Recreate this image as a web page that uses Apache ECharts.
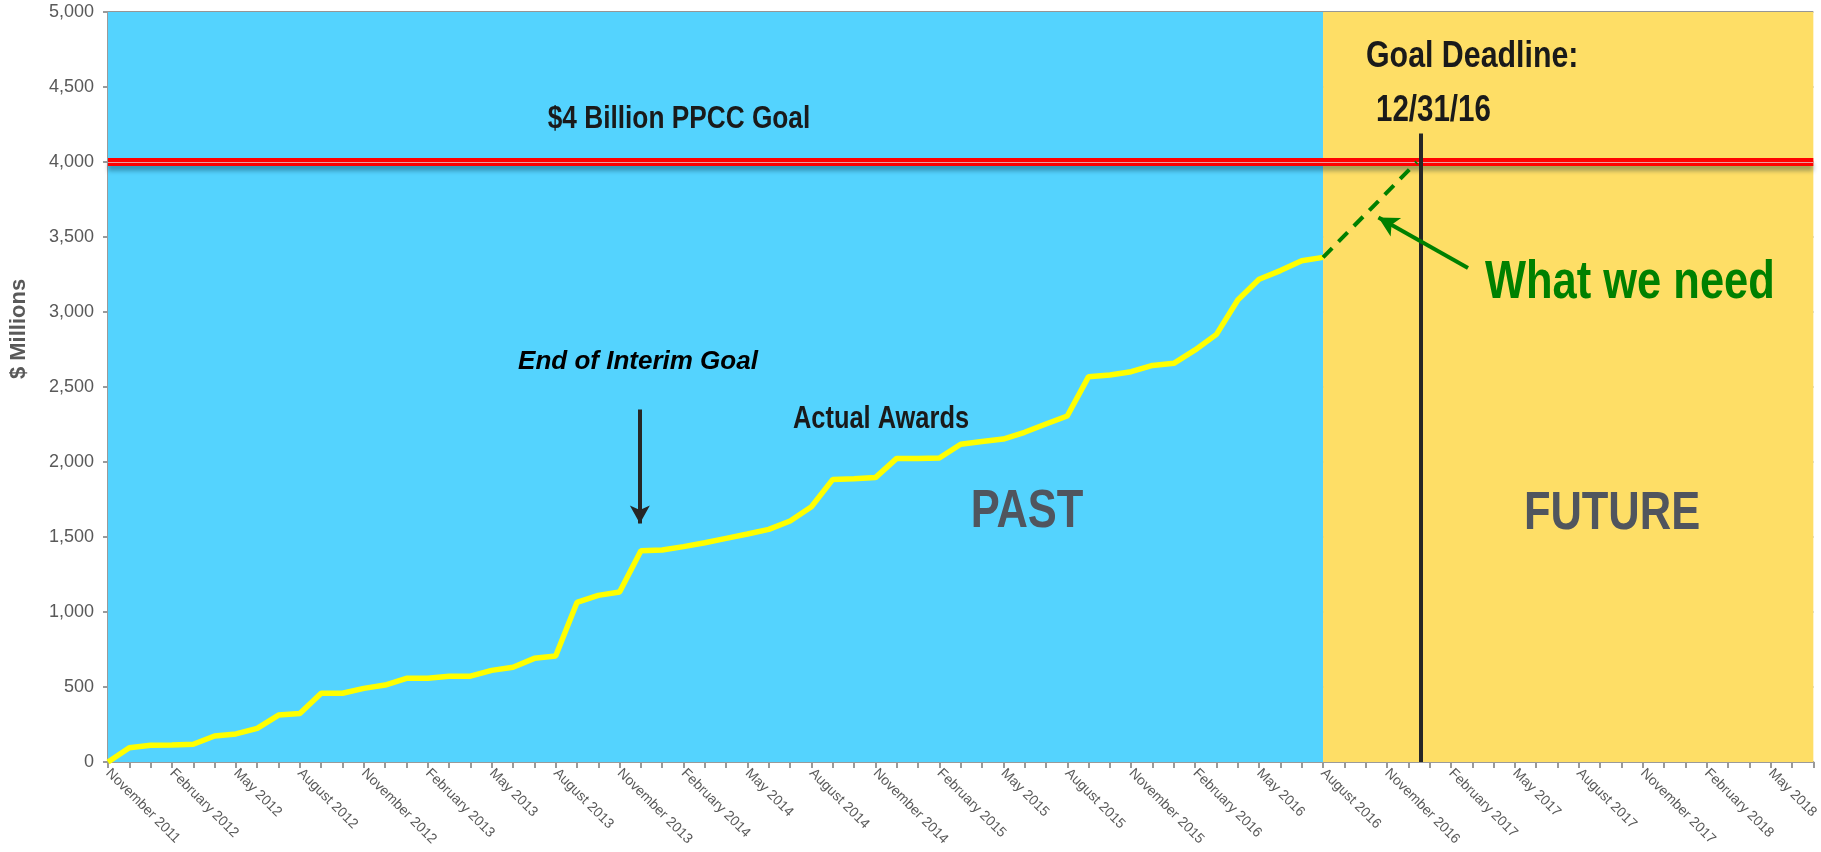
<!DOCTYPE html>
<html>
<head>
<meta charset="utf-8">
<script src="https://cdn.jsdelivr.net/npm/echarts@6/dist/echarts.min.js"></script>
<style>html,body{margin:0;padding:0;background:#fff;}#c{width:1821px;height:852px;}</style>
</head>
<body>
<div id="c"></div>
<script>
const months = [
  'November 2011','December 2011',
  'January 2012','February 2012','March 2012','April 2012','May 2012','June 2012','July 2012','August 2012','September 2012','October 2012','November 2012','December 2012',
  'January 2013','February 2013','March 2013','April 2013','May 2013','June 2013','July 2013','August 2013','September 2013','October 2013','November 2013','December 2013',
  'January 2014','February 2014','March 2014','April 2014','May 2014','June 2014','July 2014','August 2014','September 2014','October 2014','November 2014','December 2014',
  'January 2015','February 2015','March 2015','April 2015','May 2015','June 2015','July 2015','August 2015','September 2015','October 2015','November 2015','December 2015',
  'January 2016','February 2016','March 2016','April 2016','May 2016','June 2016','July 2016','August 2016','September 2016','October 2016','November 2016','December 2016',
  'January 2017','February 2017','March 2017','April 2017','May 2017','June 2017','July 2017','August 2017','September 2017','October 2017','November 2017','December 2017',
  'January 2018','February 2018','March 2018','April 2018','May 2018','June 2018','July 2018'
];
// Cumulative actual awards, $ millions (Nov 2011 - Aug 2016)
const actualAwards = [
  0, 95, 111, 113, 118, 173, 187, 224, 313, 324,
  458, 458, 491, 513, 558, 558, 571, 572, 611, 632,
  691, 707, 1064, 1111, 1133, 1409, 1413, 1436, 1462, 1491,
  1520, 1551, 1607, 1702, 1884, 1889, 1896, 2024, 2024, 2027,
  2118, 2136, 2153, 2198, 2253, 2307, 2569, 2580, 2602, 2644,
  2658, 2747, 2851, 3080, 3218, 3276, 3342, 3364
];
const yTicks = [0, 500, 1000, 1500, 2000, 2500, 3000, 3500, 4000, 4500, 5000];
const goalValue = 4000;
const pastEndMonth = 'August 2016';
const interimGoalMonth = 'December 2013';
const deadlineMonthPos = 61.6; // 12/31/16 on the month scale

const pastEndIdx = months.indexOf(pastEndMonth);
const interimIdx = months.indexOf(interimGoalMonth);
const lastIdx = months.length - 1;
const REG = '"Liberation Sans",Arial,sans-serif';

// narrow bold text (Arial Narrow look) via horizontal scaling of Liberation Sans Bold
function narrowText(text, x, y, size, fill, align, extra) {
  return {
    type: 'text', z: 100, x: x, y: y, scaleX: 0.82, silent: true,
    style: Object.assign({text: text, x: 0, y: 0, align: align || 'center', verticalAlign: 'middle',
      font: 'bold ' + size + 'px ' + REG, fill: fill}, extra || {})
  };
}

const chart = echarts.init(document.getElementById('c'), null, {renderer: 'canvas'});
chart.setOption({
  animation: false,
  backgroundColor: '#ffffff',
  grid: {left: 98, right: 0, top: 12, bottom: 90, containLabel: false},
  xAxis: [{
    type: 'category',
    data: months,
    boundaryGap: false,
    axisLine: {show: true, lineStyle: {color: '#9a9a9a', width: 2}},
    axisTick: {show: true, interval: 0, length: 6, lineStyle: {color: '#9a9a9a', width: 2}},
    axisLabel: {interval: 2, rotate: -45, fontSize: 14, color: '#595959', fontFamily: REG, margin: 9},
    splitLine: {show: false}
  }, {
    type: 'value', min: 0, max: lastIdx, show: false
  }],
  yAxis: {
    type: 'value', min: yTicks[0], max: yTicks[yTicks.length - 1], interval: yTicks[1] - yTicks[0],
    name: '$ Millions', nameLocation: 'middle', nameGap: 78, nameRotate: 90,
    nameTextStyle: {fontSize: 22, fontWeight: 'bold', color: '#595959', fontFamily: REG, padding: [0, 0, 0, 116]},
    axisLine: {show: true, lineStyle: {color: '#9a9a9a', width: 2}},
    axisTick: {show: true, length: 5, lineStyle: {color: '#9a9a9a', width: 2}},
    axisLabel: {fontSize: 18, color: '#595959', fontFamily: REG, margin: 14,
      formatter: v => v.toLocaleString('en-US')},
    splitLine: {show: true, lineStyle: {color: '#969696', width: 2}}
  },
  series: [
    {
      // background regions: PAST / FUTURE
      type: 'line', xAxisIndex: 1, data: [], z: -1, silent: true,
      markArea: {
        silent: true,
        data: [
          [{xAxis: 0, itemStyle: {color: '#54D3FE'}}, {xAxis: pastEndIdx}],
          [{xAxis: pastEndIdx, itemStyle: {color: '#FEDE66'}}, {xAxis: lastIdx}]
        ]
      }
    },
    {
      name: 'Actual Awards', type: 'line', data: actualAwards, showSymbol: false, z: 5,
      lineStyle: {color: '#FFFF00', width: 5.5}, itemStyle: {color: '#FFFF00'},
      markLine: {
        silent: true, symbol: 'none', label: {show: false},
        data: [
          {yAxis: goalValue, lineStyle: {color: '#FF0000', width: 8, type: 'solid',
            shadowColor: 'rgba(0,40,60,0.35)', shadowBlur: 4, shadowOffsetY: 5}},
          {yAxis: goalValue, lineStyle: {color: '#E8A0A0', width: 1.2, type: 'solid'}}
        ]
      }
    },
    {
      name: 'What we need', type: 'line', xAxisIndex: 1, showSymbol: false, z: 6,
      data: [[pastEndIdx, actualAwards[actualAwards.length - 1]], [deadlineMonthPos - 0.2, goalValue]],
      lineStyle: {color: '#008000', width: 4, type: [13, 9]},
      markLine: {
        silent: true, label: {show: false},
        data: [
          [{coord: [deadlineMonthPos, 4190], symbol: 'none'}, {coord: [deadlineMonthPos, 0], symbol: 'none',
            lineStyle: {color: '#262626', width: 4, type: 'solid'}}],
          [{coord: [63.8, 3293], symbol: 'none'}, {coord: [59.6, 3630], symbol: 'arrow', symbolSize: [16, 20],
            lineStyle: {color: '#008000', width: 4, type: 'solid'}}],
          [{coord: [interimIdx - 0.05, 2350], symbol: 'none'},
           {coord: [interimIdx - 0.05, 1590], symbol: 'arrow', symbolSize: [15, 18],
            lineStyle: {color: '#262626', width: 4, type: 'solid'}}]
        ],
        lineStyle: {type: 'solid'}
      }
    }
  ],
  graphic: [
    narrowText('$4 Billion PPCC Goal', 679, 119, 32, '#1a1a1a'),
    {type: 'text', z: 100, silent: true, style: {text: 'End of Interim Goal', x: 638, y: 362, align: 'center', verticalAlign: 'middle',
      font: 'italic bold 26px ' + REG, fill: '#000000'}},
    narrowText('Actual Awards', 881, 419, 31, '#1a1a1a', 'center',
      {shadowColor: 'rgba(0,0,0,0.35)', shadowBlur: 4, shadowOffsetY: 4}),
    narrowText('PAST', 1027, 512, 53, '#50555E'),
    narrowText('FUTURE', 1612, 514, 53, '#50555E'),
    narrowText('Goal Deadline:', 1366, 57, 37, '#1a1a1a', 'left'),
    narrowText('12/31/16', 1376, 111, 36, '#1a1a1a', 'left'),
    narrowText('What we need', 1485, 283, 53, '#008000', 'left')
  ]
});
</script>
</body>
</html>
